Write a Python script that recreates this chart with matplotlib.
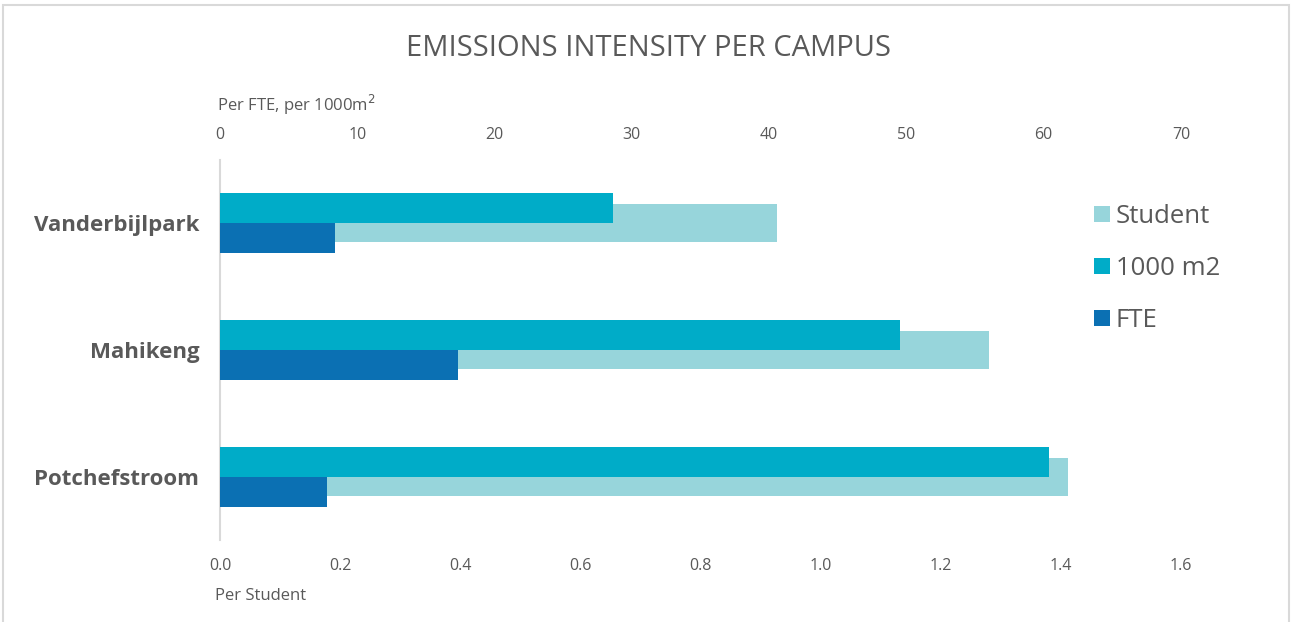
import matplotlib
matplotlib.use("Agg")
import matplotlib.pyplot as plt
import numpy as np
from matplotlib.patches import Rectangle

plt.rcParams["font.family"] = ["Open Sans", "DejaVu Sans"]

campuses = ["Vanderbijlpark", "Mahikeng", "Potchefstroom"]
per_student = [0.927, 1.280, 1.412]
per_1000m2 = [28.6, 49.5, 60.4]
per_fte = [8.4, 17.3, 7.8]

TEXT = "#595959"
C_STUDENT = "#97D5DB"
C_M2 = "#00ACC8"
C_FTE = "#0B70B3"

fig = plt.figure(figsize=(12.92, 6.22), dpi=100)
ax = fig.add_axes([220 / 1292, 1 - 540 / 622, (1181 - 220) / 1292, 380 / 622])
ax2 = ax.twiny()

y = np.arange(len(campuses))
half = 0.238

# Student on the bottom axis, the other two share the top axis
b_student = ax.barh(y, per_student, height=0.30, color=C_STUDENT, label="Student", zorder=1)
b_m2 = ax2.barh(y - half / 2, per_1000m2, height=half, color=C_M2, label="1000 m2", zorder=2)
b_fte = ax2.barh(y + half / 2, per_fte, height=half, color=C_FTE, label="FTE", zorder=2)

ax.set_xlim(0, 1.6)
ax2.set_xlim(0, 70)
ax.set_ylim(2.5, -0.5)
ax.set_xticks(np.arange(0, 1.61, 0.2))
ax.set_xticklabels([f"{v:.1f}" for v in np.arange(0, 1.61, 0.2)])
ax2.set_xticks(range(0, 71, 10))
ax.set_yticks(y)

for a in (ax, ax2):
    for side in ("top", "right", "bottom", "left"):
        a.spines[side].set_visible(False)
    a.tick_params(length=0, labelsize=11.5, labelcolor=TEXT)
ax.spines["left"].set_visible(True)
ax.spines["left"].set_color("#d9d9d9")
ax.spines["left"].set_linewidth(1.5)
ax.tick_params(axis="x", pad=13)
ax.tick_params(axis="y", pad=15)
ax2.tick_params(axis="x", pad=12)
ax.set_yticklabels(campuses, fontsize=16, fontweight="bold", color=TEXT)

fig.text(648 / 1292, 1 - 48 / 622, "EMISSIONS INTENSITY PER CAMPUS", ha="center", va="center",
         fontsize=21, color=TEXT)
fig.text(217 / 1292, 1 - 105 / 622, "Per FTE, per 1000m$^2$", ha="left", va="center",
         fontsize=12, color=TEXT)
fig.text(215 / 1292, 1 - 596 / 622, "Per Student", ha="left", va="center",
         fontsize=12, color=TEXT)

leg = fig.legend(handles=[b_student, b_m2, b_fte], loc="upper left",
                 bbox_to_anchor=(1071 / 1292, 1 - 181 / 622), frameon=False,
                 fontsize=18.5, handlelength=0.6, handleheight=0.6, handletextpad=0.25,
                 labelspacing=1.05)
for t in leg.get_texts():
    t.set_color(TEXT)

fig.patches.append(Rectangle((3 / 1292, -0.01), 1286 / 1292, 1 - 5 / 622 + 0.01,
                             transform=fig.transFigure, fill=False,
                             edgecolor="#d9d9d9", linewidth=1.5))

fig.savefig("out.png", dpi=100)
